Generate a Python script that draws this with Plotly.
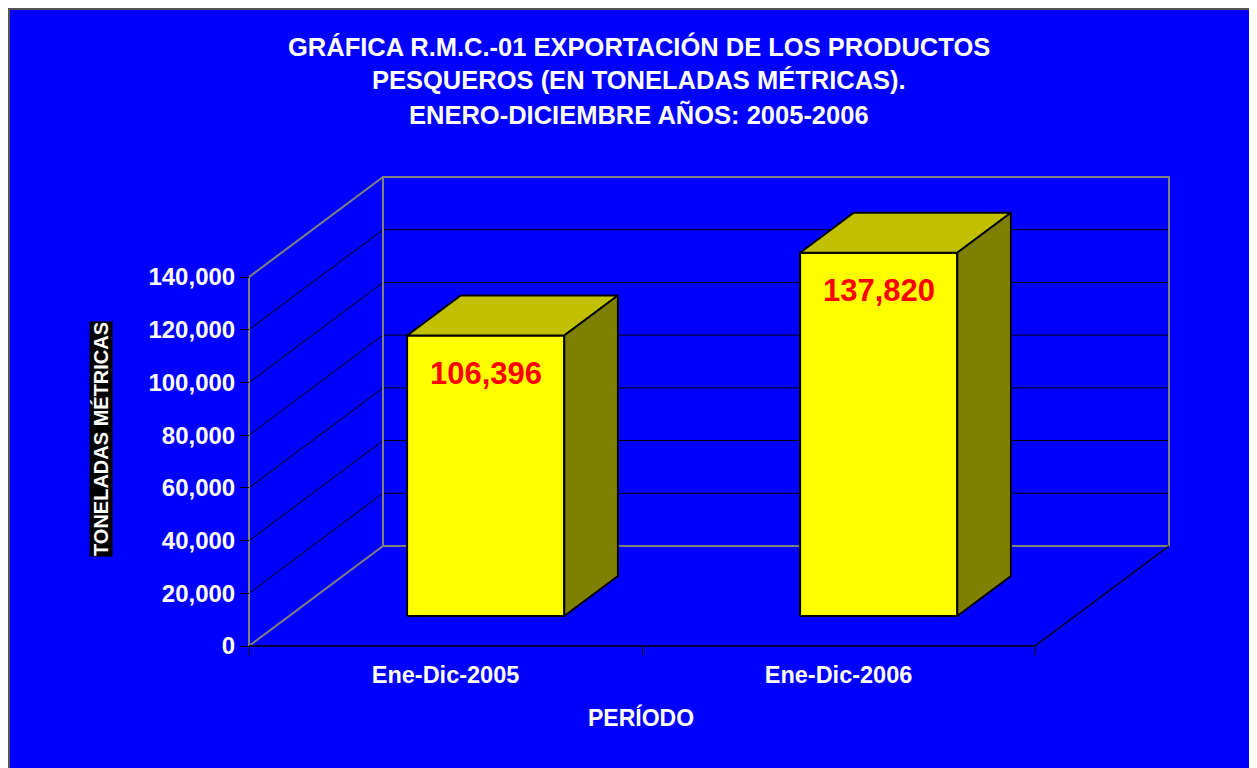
import plotly.graph_objects as go

# ---------------- data ----------------
categories = ["Ene-Dic-2005", "Ene-Dic-2006"]
values = [106396, 137820]
value_labels = ["106,396", "137,820"]
y_ticks = [0, 20000, 40000, 60000, 80000, 100000, 120000, 140000]
y_tick_labels = ["0", "20,000", "40,000", "60,000", "80,000", "100,000", "120,000", "140,000"]
title_lines = [
    "GRÁFICA R.M.C.-01 EXPORTACIÓN DE LOS PRODUCTOS",
    "PESQUEROS (EN TONELADAS MÉTRICAS).",
    "ENERO-DICIEMBRE AÑOS: 2005-2006",
]
y_title = "TONELADAS MÉTRICAS"
x_title = "PERÍODO"

# ---------------- geometry / style ----------------
OFF = 8                                       # page body margin (screen px)
W, H = 1257, 768
PL, PR, PT, PB = 249 - OFF, 1170 - OFF, 170 - OFF, 646 - OFF   # origin/extent (figure px)
E = 5                                         # extra room so edge lines are not clipped
CAT_PX = 393.0                                # pixels per category
Y_MAX = y_ticks[-1]
VAL_PER_PX = Y_MAX / 369.0
DEPTH_X = 134.0 / CAT_PX                      # oblique depth offset (category units)
DEPTH_Y = 100.0 * VAL_PER_PX                  # oblique depth offset (value units)
BAR_X0, BAR_X1 = 0.3, 0.7
BAR_Z0, BAR_Z1 = 0.3, 0.7
N = len(categories)

BLUE = "#0000FF"
GRAY = "#808080"
FONT = "Arial, Liberation Sans, sans-serif"

AREA_W = PR - PL + E
AREA_H = PB - PT + E


def proj(x, y, z):
    return x + z * DEPTH_X, y + z * DEPTH_Y


def px_x(p):  # screen px -> paper
    return (p - OFF - (PL - E)) / AREA_W


def px_y(p):
    return (PB + E - (p - OFF)) / AREA_H


fig = go.Figure()


def add_path(pts, color, width, fill=None):
    xs, ys = [], []
    for p in pts:
        X, Y = proj(*p)
        xs.append(X)
        ys.append(Y)
    kw = {}
    if fill:
        kw = dict(fill="toself", fillcolor=fill)
    fig.add_trace(go.Scatter(x=xs, y=ys, mode="lines",
                             line=dict(color=color, width=width),
                             hoverinfo="skip", showlegend=False, **kw))


# back-wall and left-wall gridlines
for t in y_ticks[1:-1]:
    add_path([(0, t, 1), (N, t, 1)], "black", 1)
    add_path([(0, t, 0), (0, t, 1)], "black", 1)

# wall borders (gray)
add_path([(0, 0, 1), (N, 0, 1), (N, Y_MAX, 1), (0, Y_MAX, 1), (0, 0, 1)], GRAY, 2)
add_path([(0, 0, 0), (0, 0, 1)], GRAY, 2)
add_path([(0, Y_MAX, 0), (0, Y_MAX, 1)], GRAY, 2)
add_path([(0, 0, 0), (0, Y_MAX, 0)], GRAY, 2)

# floor front and right edges (black)
add_path([(0, 0, 0), (N, 0, 0)], "black", 1.3)
add_path([(N, 0, 0), (N, 0, 1)], "black", 1.3)

# 3D bars
for i, v in enumerate(values):
    x0, x1 = i + BAR_X0, i + BAR_X1
    z0, z1 = BAR_Z0, BAR_Z1
    add_path([(x0, 0, z0), (x1, 0, z0), (x1, v, z0), (x0, v, z0), (x0, 0, z0)],
             "black", 2, fill="#FFFF00")
    add_path([(x0, v, z0), (x1, v, z0), (x1, v, z1), (x0, v, z1), (x0, v, z0)],
             "black", 2, fill="#C0C000")
    add_path([(x1, 0, z0), (x1, 0, z1), (x1, v, z1), (x1, v, z0), (x1, 0, z0)],
             "black", 2, fill="#808000")

annotations = []
# data labels
for i, v in enumerate(values):
    X, Y = proj(i + (BAR_X0 + BAR_X1) / 2, v, BAR_Z0)
    annotations.append(dict(x=X, y=Y, xref="x", yref="y", text=value_labels[i],
                            showarrow=False, yanchor="middle", yshift=-38,
                            font=dict(family=FONT, size=31, color="#FF0000", weight="bold")))

# title lines
for line, yc in zip(title_lines, [46, 80, 115]):
    annotations.append(dict(x=px_x(639), y=px_y(yc), xref="paper", yref="paper",
                            text=line, showarrow=False, xanchor="center", yanchor="middle",
                            font=dict(family=FONT, size=25.5, color="white", weight="bold")))

# axis titles
annotations.append(dict(x=px_x(101), y=px_y(439), xref="paper", yref="paper",
                        text=y_title, showarrow=False, textangle=-90,
                        xanchor="center", yanchor="middle", bgcolor="black", borderpad=0,
                        font=dict(family=FONT, size=20, color="white", weight="bold")))
annotations.append(dict(x=px_x(641), y=px_y(717), xref="paper", yref="paper",
                        text=x_title, showarrow=False, xanchor="center", yanchor="middle",
                        font=dict(family=FONT, size=23, color="white", weight="bold")))

# gray frame around the chart area
shapes = [
    dict(type="rect", xref="paper", yref="paper", x0=px_x(9), x1=px_x(1266 + OFF),
         y0=px_y(777 + OFF), y1=px_y(9), fillcolor="rgba(0,0,0,0)",
         line=dict(color="#555555", width=2)),
]

fig.update_layout(
    width=W, height=H,
    margin=dict(l=PL - E, r=W - PR, t=PT, b=H - PB - E, pad=0),
    paper_bgcolor=BLUE, plot_bgcolor="rgba(0,0,0,0)",
    showlegend=False,
    annotations=annotations,
    shapes=shapes,
    xaxis=dict(range=[-E / CAT_PX, (PR - PL) / CAT_PX], showgrid=False, zeroline=False,
               showline=False, anchor="free", position=E / AREA_H,
               tickmode="array", tickvals=[i + 0.5 for i in range(N)], ticktext=categories,
               ticks="", ticklabelstandoff=12,
               tickfont=dict(family=FONT, size=23.5, color="white", weight="bold"),
               minor=dict(tickmode="array", tickvals=list(range(N + 1)), ticks="outside",
                          ticklen=8, tickwidth=1, tickcolor="black", showgrid=False),
               fixedrange=True),
    yaxis=dict(range=[-E * VAL_PER_PX, (PB - PT) * VAL_PER_PX], showgrid=False, zeroline=False,
               showline=False, anchor="free", position=E / AREA_W,
               tickmode="array", tickvals=y_ticks, ticktext=y_tick_labels,
               ticks="outside", ticklen=9, tickwidth=1, tickcolor="black",
               tickfont=dict(family=FONT, size=24, color="white", weight="bold"),
               fixedrange=True),
)

fig.write_html("out.html")
